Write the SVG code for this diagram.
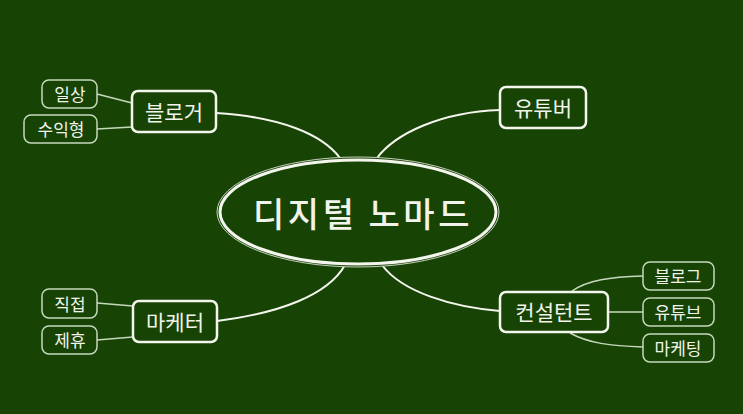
<svg xmlns="http://www.w3.org/2000/svg" width="743" height="414" viewBox="0 0 743 414">
<style>
.bg{fill:#174405}
.main rect{fill:#174405;stroke:#f4f6ee;stroke-width:2.5}
.sub rect{fill:#174405;stroke:#c6d8bc;stroke-width:1.5}
text{font-family:"Noto Sans CJK KR","Noto Sans",sans-serif;fill:#f2f4ec;text-anchor:middle;dominant-baseline:central}
.main text{font-size:21px}
.sub text{font-size:17px}
.conn path{fill:none}
.c1{stroke:#f4f6ee;stroke-width:2}
.c2{stroke:#c6d8bc;stroke-width:1.5}
</style>
<rect class="bg" x="0" y="0" width="743" height="414"/>
<g id="connectors" class="conn">
<path class="c1" d="M216,113 C280,117 322,134 340,158"/>
<path class="c1" d="M500,110 C440,112 395,134 377,158"/>
<path class="c1" d="M217,321 C280,313 328,295 345,265"/>
<path class="c1" d="M382,265 C402,292 452,307 500,311"/>
<path class="c2" d="M97,94 L132,103"/>
<path class="c2" d="M97,129 L132,127"/>
<path class="c2" d="M97,303 L133,306"/>
<path class="c2" d="M97,340 L133,337"/>
<path class="c2" d="M572,291 C588,280 610,277 643,276"/>
<path class="c2" d="M608,312 L643,312"/>
<path class="c2" d="M570,333 C588,343 610,346 643,347"/>
</g>
<g id="center">
<ellipse cx="358" cy="212" rx="141" ry="55" fill="#174405" stroke="#c8d0c0" stroke-width="1"/>
<ellipse cx="358" cy="212" rx="138" ry="52" fill="none" stroke="#f4f6ee" stroke-width="3"/>
<text x="363" y="212" style="font-size:34px;letter-spacing:3.5px;font-weight:500">디지털 노마드</text>
</g>
<g id="blogger" class="main"><rect x="132" y="91" width="84" height="41" rx="6"/><text x="174" y="111">블로거</text></g>
<g id="youtuber" class="main"><rect x="500" y="87" width="86" height="41" rx="6"/><text x="543" y="107">유튜버</text></g>
<g id="marketer" class="main"><rect x="133" y="301" width="84" height="41" rx="6"/><text x="175" y="321">마케터</text></g>
<g id="consultant" class="main"><rect x="500" y="292" width="108" height="40" rx="6"/><text x="554" y="311">컨설턴트</text></g>
<g id="daily" class="sub"><rect x="42" y="80" width="55" height="28" rx="7"/><text x="70" y="93">일상</text></g>
<g id="profit" class="sub"><rect x="24" y="115" width="73" height="28" rx="7"/><text x="61" y="128">수익형</text></g>
<g id="direct" class="sub"><rect x="42" y="289" width="55" height="29" rx="7"/><text x="70" y="303">직접</text></g>
<g id="affiliate" class="sub"><rect x="42" y="326" width="55" height="28" rx="7"/><text x="70" y="339">제휴</text></g>
<g id="c-blog" class="sub"><rect x="643" y="262" width="71" height="28" rx="7"/><text x="678" y="275">블로그</text></g>
<g id="c-youtube" class="sub"><rect x="643" y="298" width="71" height="28" rx="7"/><text x="678" y="311">유튜브</text></g>
<g id="c-marketing" class="sub"><rect x="643" y="334" width="71" height="28" rx="7"/><text x="678" y="347">마케팅</text></g>
</svg>
